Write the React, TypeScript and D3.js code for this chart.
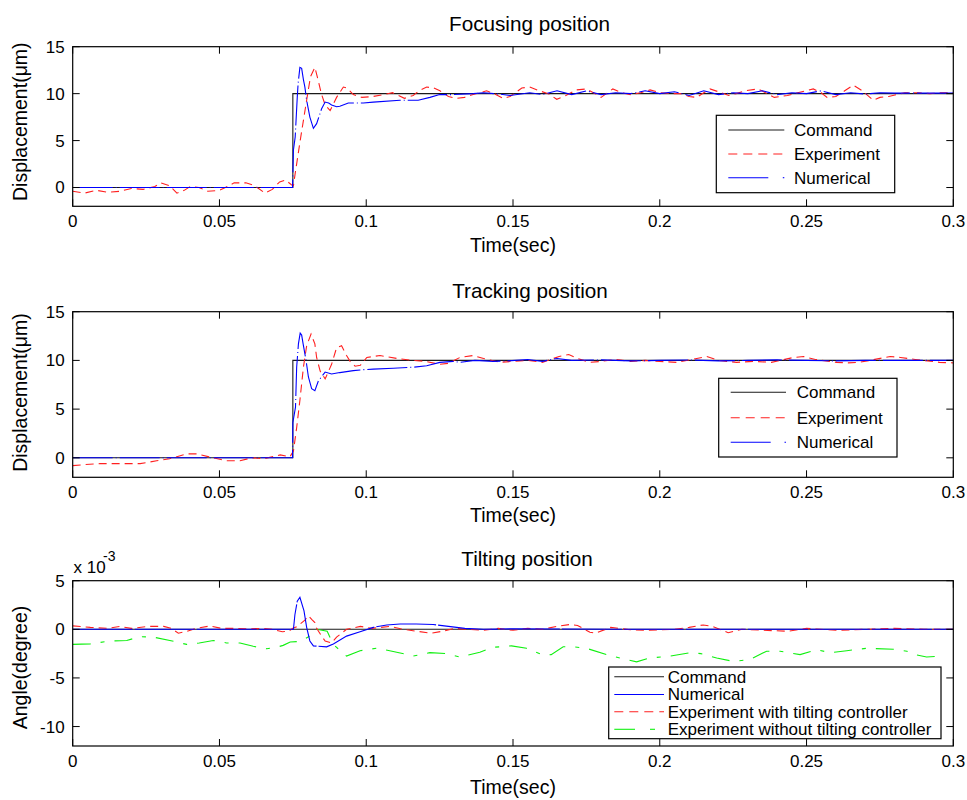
import React from "react";
import * as d3 from "d3";

// ---------- data ----------
const X_TICKS = [0, 0.05, 0.1, 0.15, 0.2, 0.25, 0.3];
const X_TICK_LABELS = ["0", "0.05", "0.1", "0.15", "0.2", "0.25", "0.3"];
const Y_TICKS_DISP = [0, 5, 10, 15];
const Y_TICKS_ANGLE = [-10, -5, 0, 5];

const P1_COMMAND: [number, number][] = [[0, 0], [0.075, 0], [0.075, 10], [0.3, 10]];
const P1_EXPERIMENT: [number, number][] = [
  [0, -0.4], [0.004, -0.6], [0.008, -0.3], [0.012, -0.5], [0.016, -0.4], [0.02, -0.1], [0.024, -0.2], [0.028, 0.1],
  [0.03, 0.5], [0.033, 0.2], [0.0355, -0.6], [0.038, -0.3], [0.04, 0.1], [0.043, 0], [0.046, -0.4], [0.05, -0.3],
  [0.052, 0], [0.055, 0.5], [0.059, 0.5], [0.062, 0.2], [0.0655, -0.6], [0.068, -0.2], [0.0705, 0.6], [0.0725, 0.8],
  [0.0745, 0.3], [0.0752, 0.2], [0.0758, 1.5], [0.0775, 5], [0.0797, 9.3], [0.081, 11.8], [0.0825, 12.8], [0.0838, 11.2],
  [0.0847, 10.0], [0.086, 8.8], [0.0877, 8.2], [0.0899, 9.6], [0.0922, 10.7], [0.0935, 10.6], [0.0956, 9.9], [0.0985, 9.6],
  [0.1024, 9.7], [0.106, 9.9], [0.109, 10.1], [0.113, 9.5], [0.116, 9.8], [0.118, 10.3], [0.1206, 10.7], [0.123, 10.6],
  [0.1251, 10.3], [0.128, 9.7], [0.1307, 9.5], [0.1335, 9.6], [0.1364, 9.9], [0.141, 10.3], [0.1435, 10.0], [0.1467, 9.5],
  [0.149, 9.7], [0.153, 10.6], [0.1557, 10.7], [0.159, 10.3], [0.162, 10.0], [0.1649, 9.4], [0.168, 9.8], [0.1716, 10.4],
  [0.175, 10.5], [0.178, 10.0], [0.18, 9.6], [0.184, 10.5], [0.187, 10.1], [0.19, 9.9], [0.1935, 10.1], [0.1967, 10.4],
  [0.2, 10.1], [0.2035, 10.0], [0.207, 10.0], [0.21, 9.7], [0.2126, 9.6], [0.215, 10.1], [0.2171, 10.5], [0.22, 10.2],
  [0.2235, 9.8], [0.226, 10.0], [0.229, 10.3], [0.2335, 10.5], [0.236, 10.1], [0.239, 9.6], [0.2435, 9.8], [0.247, 10.1],
  [0.2523, 10.5], [0.255, 10.1], [0.257, 9.6], [0.26, 9.7], [0.263, 10.3], [0.2659, 10.9], [0.269, 10.3], [0.2727, 9.3],
  [0.275, 9.6], [0.278, 9.7], [0.2835, 10.1], [0.288, 10.1], [0.292, 10.0], [0.296, 10.1], [0.3, 10.1],
];
const P1_NUMERICAL: [number, number][] = [
  [0, 0], [0.0749, 0], [0.0752, 4], [0.0758, 5.4], [0.0765, 9.6], [0.0768, 11.1], [0.0774, 12.8], [0.078, 12.7],
  [0.0786, 11.5], [0.0791, 10.7], [0.0797, 9.3], [0.0808, 7.5], [0.082, 6.3], [0.0831, 6.8], [0.0848, 8.4], [0.086, 9.1],
  [0.0872, 9.0], [0.0882, 8.8], [0.0899, 8.6], [0.091, 8.65], [0.0939, 9.0], [0.099, 9.0], [0.1024, 9.1], [0.1115, 9.3],
  [0.1177, 9.3], [0.1217, 9.6], [0.125, 9.9], [0.1296, 9.9], [0.1364, 10], [0.14, 10.1], [0.1455, 9.95], [0.149, 9.8],
  [0.1557, 10.1], [0.16, 9.9], [0.165, 10.3], [0.17, 9.9], [0.175, 10.3], [0.18, 9.9], [0.185, 10.1], [0.19, 10.0],
  [0.195, 10.3], [0.2, 10.0], [0.205, 10.2], [0.21, 9.8], [0.215, 10.3], [0.22, 9.9], [0.225, 10.1], [0.23, 10.0],
  [0.235, 10.3], [0.24, 9.9], [0.245, 10.1], [0.25, 10.0], [0.255, 10.3], [0.26, 9.9], [0.265, 10.1], [0.27, 9.95],
  [0.275, 10.1], [0.28, 10.05], [0.29, 10.05], [0.3, 10.05],
];

const P2_COMMAND: [number, number][] = [[0, 0], [0.075, 0], [0.075, 10], [0.3, 10]];
const P2_EXPERIMENT: [number, number][] = [
  [0, -0.8], [0.004, -0.7], [0.0093, -0.6], [0.015, -0.6], [0.023, -0.6], [0.0286, -0.3], [0.033, -0.1], [0.0388, 0.4],
  [0.0422, 0.4], [0.0479, 0], [0.0524, -0.3], [0.057, -0.3], [0.061, 0], [0.065, -0.1], [0.0707, 0.3], [0.074, 0.1],
  [0.0752, 0.7], [0.0763, 3.1], [0.0774, 5.9], [0.0786, 9.3], [0.0797, 11.5], [0.0812, 12.7], [0.0825, 11.7], [0.0831, 10.3],
  [0.0843, 8.9], [0.086, 8.1], [0.0882, 9.6], [0.0899, 11.3], [0.0916, 11.5], [0.0933, 10.5], [0.0945, 9.9], [0.0962, 9.4],
  [0.098, 9.5], [0.1002, 10.3], [0.1047, 10.5], [0.1104, 10.2], [0.116, 10.0], [0.12, 9.9], [0.1251, 9.6], [0.128, 9.7],
  [0.1319, 10.3], [0.1364, 10.5], [0.14, 10.2], [0.1455, 9.8], [0.15, 9.9], [0.155, 10.0], [0.16, 9.8], [0.1657, 10.4],
  [0.169, 10.6], [0.172, 10.2], [0.1762, 9.8], [0.18, 9.9], [0.185, 10.1], [0.19, 9.9], [0.195, 10.0], [0.2, 9.9],
  [0.2058, 9.8], [0.2126, 10.2], [0.216, 10.4], [0.22, 10.0], [0.2262, 9.8], [0.232, 9.9], [0.238, 9.8], [0.2455, 10.3],
  [0.249, 10.4], [0.253, 10.1], [0.2603, 9.8], [0.264, 9.75], [0.268, 9.8], [0.2785, 10.4], [0.282, 10.3], [0.287, 10.1],
  [0.2953, 9.8], [0.3, 9.75],
];
const P2_NUMERICAL: [number, number][] = [
  [0, 0], [0.0749, 0], [0.075, 3.6], [0.0759, 5.2], [0.0763, 9.3], [0.0769, 11.7], [0.0775, 12.8], [0.078, 12.6],
  [0.0785, 11.7], [0.0795, 10], [0.0803, 8.3], [0.0814, 7.1], [0.0825, 6.9], [0.0837, 7.9], [0.086, 8.8], [0.0882, 8.6],
  [0.091, 8.75], [0.0956, 8.95], [0.099, 9.05], [0.1024, 9.1], [0.1092, 9.2], [0.116, 9.3], [0.1206, 9.45], [0.1251, 9.8],
  [0.1296, 9.9], [0.1319, 9.8], [0.137, 10], [0.1432, 9.9], [0.148, 9.95], [0.155, 10.1], [0.16, 9.9], [0.165, 10.2],
  [0.17, 10.0], [0.18, 10.05], [0.19, 9.95], [0.2, 10.0], [0.21, 10.05], [0.22, 9.95], [0.23, 10.0], [0.24, 10.05],
  [0.25, 10.0], [0.26, 9.95], [0.27, 10.0], [0.28, 10.0], [0.3, 10.0],
];

// tilting panel values are in units of 1e-3 degree
const P3_COMMAND: [number, number][] = [[0, 0], [0.3, 0]];
const P3_NUMERICAL: [number, number][] = [
  [0, 0], [0.0749, 0], [0.0752, 0], [0.0757, 1.5], [0.0765, 2.9], [0.0774, 3.3], [0.0788, 1.9], [0.0797, 0.2],
  [0.0808, -1.2], [0.082, -1.7], [0.0865, -1.8], [0.0888, -1.5], [0.0933, -0.7], [0.0979, -0.25], [0.1024, 0.2],
  [0.107, 0.45], [0.1115, 0.55], [0.117, 0.55], [0.1228, 0.5], [0.128, 0.3], [0.1336, 0.1], [0.14, 0], [0.15, 0.05],
  [0.2, 0], [0.3, 0],
];
const P3_EXP_WITH: [number, number][] = [
  [0, 0.35], [0.006, 0.2], [0.012, 0.1], [0.016, 0.3], [0.02, 0.1], [0.026, 0.3], [0.031, 0.3], [0.0335, 0.1],
  [0.036, -0.4], [0.039, -0.2], [0.042, 0.1], [0.0468, 0.35], [0.0506, 0.1], [0.055, 0.1], [0.06, 0.05], [0.065, 0.1],
  [0.068, 0.0], [0.0714, -0.25], [0.0735, -0.2], [0.075, 0.1], [0.0763, 0.25], [0.0791, 0.95], [0.0803, 1.4], [0.0815, 1.0],
  [0.0825, 0.7], [0.0831, 0.1], [0.0848, -0.7], [0.086, -1.2], [0.0882, -1.4], [0.0899, -0.8], [0.0933, 0], [0.098, 0.3],
  [0.102, 0.1], [0.108, 0.3], [0.1126, 0.0], [0.1172, -0.2], [0.122, -0.4], [0.126, -0.2], [0.13, 0.1], [0.135, 0.0],
  [0.14, -0.1], [0.145, 0.1], [0.15, -0.1], [0.155, 0.1], [0.16, 0.0], [0.165, 0.3], [0.1694, 0.5], [0.172, 0.4],
  [0.1762, -0.3], [0.178, -0.4], [0.1833, 0.2], [0.19, -0.05], [0.195, -0.1], [0.2, -0.05], [0.205, 0], [0.21, 0.2],
  [0.2148, 0.45], [0.218, 0.3], [0.2233, -0.35], [0.228, 0], [0.2436, -0.2], [0.25, 0.1], [0.26, -0.1], [0.27, 0],
  [0.28, 0.1], [0.29, 0], [0.3, 0],
];
const P3_EXP_WITHOUT: [number, number][] = [
  [0, -1.55], [0.006, -1.5], [0.0127, -1.2], [0.0184, -1.15], [0.0229, -0.75], [0.0275, -0.8], [0.0331, -1.15],
  [0.0388, -1.55], [0.0431, -1.4], [0.0479, -1.15], [0.0524, -1.4], [0.057, -1.4], [0.0615, -1.75], [0.0661, -2.0],
  [0.0694, -1.85], [0.0717, -1.65], [0.0741, -1.3], [0.0774, -1.25], [0.082, -0.5], [0.0831, 0], [0.0867, -0.2],
  [0.0882, -1.2], [0.0893, -1.7], [0.0933, -2.75], [0.0979, -2.2], [0.1035, -1.95], [0.108, -2.2], [0.1149, -2.65],
  [0.116, -2.75], [0.1217, -2.4], [0.1274, -2.5], [0.1319, -2.85], [0.1387, -2.35], [0.1433, -1.85], [0.1495, -1.7],
  [0.1546, -1.95], [0.1603, -2.65], [0.163, -2.6], [0.1671, -1.8], [0.1705, -1.8], [0.175, -1.95], [0.1819, -2.6],
  [0.1864, -2.95], [0.1921, -3.35], [0.1966, -2.95], [0.2035, -2.75], [0.2103, -2.4], [0.214, -2.5], [0.2194, -2.95],
  [0.225, -3.3], [0.2307, -3.1], [0.2364, -2.25], [0.241, -2.25], [0.2478, -2.6], [0.2535, -2.1], [0.258, -2.4],
  [0.2637, -2.2], [0.2705, -1.95], [0.2796, -2.05], [0.2842, -2.25], [0.287, -2.6], [0.2909, -2.85], [0.2955, -2.75],
];

// ---------- styles ----------
const FONT = "'Liberation Sans', Arial, Helvetica, sans-serif";
const C_CMD = "#1a1a1a";
const C_EXP = "#ff2020";
const C_NUM = "#0000ff";
const C_GRN = "#10f010";
const DASH_EXP = "8 5";
const DASH_NUM = "40 3 1 3";
const DASH_NUM3 = "60 2";
const DASH_GRN = "18 10 4 10";

type Series = { data: [number, number][]; color: string; dash?: string };
type LegendItem = { label: string; color: string; kind: "solid" | "dash" | "dashdot" | "green" };

type PanelProps = {
  top: number;
  bottom: number;
  yDomain: [number, number];
  yTicks: number[];
  series: Series[];
  title: string;
  titleX: number;
  titleY: number;
  yLabel: string;
  yLabelY: number;
  xLabelY: number;
  legend: { x0: number; y0: number; x1: number; y1: number; rows: number[]; sx0: number; sx1: number; tx: number; font: number; items: LegendItem[] };
  id: string;
};

const LEFT = 72.7;
const RIGHT = 953.3;

function Panel(p: PanelProps) {
  const x = d3.scaleLinear().domain([0, 0.3]).range([LEFT, RIGHT]);
  const y = d3.scaleLinear().domain(p.yDomain).range([p.bottom, p.top]);
  const line = d3.line<[number, number]>().x((d) => x(d[0])).y((d) => y(d[1]));
  const tk = 7;
  const L = p.legend;
  return (
    <g>
      <defs>
        <clipPath id={"clip" + p.id}>
          <rect x={LEFT} y={p.top} width={RIGHT - LEFT} height={p.bottom - p.top} />
        </clipPath>
      </defs>
      <g clipPath={`url(#clip${p.id})`}>
        {p.series.map((s, i) => (
          <path key={i} d={line(s.data) || ""} fill="none" stroke={s.color} strokeWidth={1.1} strokeDasharray={s.dash} />
        ))}
      </g>
      {/* ticks */}
      {X_TICKS.map((t, i) => (
        <g key={"xt" + i}>
          <line x1={x(t)} x2={x(t)} y1={p.bottom} y2={p.bottom - tk} stroke="#000" />
          <line x1={x(t)} x2={x(t)} y1={p.top} y2={p.top + tk} stroke="#000" />
          <text x={x(t)} y={p.bottom + 21} textAnchor="middle" fontSize={17} fontFamily={FONT}>
            {X_TICK_LABELS[i]}
          </text>
        </g>
      ))}
      {p.yTicks.map((t, i) => (
        <g key={"yt" + i}>
          <line x1={LEFT} x2={LEFT + tk} y1={y(t)} y2={y(t)} stroke="#000" />
          <line x1={RIGHT} x2={RIGHT - tk} y1={y(t)} y2={y(t)} stroke="#000" />
          <text x={LEFT - 8} y={y(t)} dy="0.35em" textAnchor="end" fontSize={17} fontFamily={FONT}>
            {String(t)}
          </text>
        </g>
      ))}
      <rect x={LEFT} y={p.top} width={RIGHT - LEFT} height={p.bottom - p.top} fill="none" stroke="#000" strokeWidth={1.2} />
      <text x={p.titleX} y={p.titleY} textAnchor="middle" fontSize={20.7} fontFamily={FONT}>
        {p.title}
      </text>
      <text x={(LEFT + RIGHT) / 2} y={p.xLabelY} textAnchor="middle" fontSize={19.5} fontFamily={FONT}>
        Time(sec)
      </text>
      <text transform={`translate(26.7,${p.yLabelY}) rotate(-90)`} textAnchor="middle" fontSize={19.5} fontFamily={FONT}>
        {p.yLabel}
      </text>
      {/* legend */}
      <rect x={L.x0} y={L.y0} width={L.x1 - L.x0} height={L.y1 - L.y0} fill="#fff" stroke="#000" strokeWidth={1.2} />
      {L.items.map((it, i) => {
        const yy = L.rows[i];
        let sample: React.ReactNode;
        if (it.kind === "solid") {
          sample = <line x1={L.sx0} x2={L.sx1} y1={yy} y2={yy} stroke={it.color} strokeWidth={1.1} />;
        } else if (it.kind === "dash") {
          sample = <line x1={L.sx0} x2={L.sx1} y1={yy} y2={yy} stroke={it.color} strokeWidth={1.1} strokeDasharray="9 6" />;
        } else if (it.kind === "dashdot") {
          sample = (
            <g>
              <line x1={L.sx0} x2={L.sx0 + 40} y1={yy} y2={yy} stroke={it.color} strokeWidth={1.1} />
              <line x1={L.sx1 - 1.5} x2={L.sx1} y1={yy} y2={yy} stroke={it.color} strokeWidth={1.1} />
            </g>
          );
        } else {
          sample = (
            <g>
              <line x1={L.sx0} x2={L.sx0 + 20.7} y1={yy} y2={yy} stroke={it.color} strokeWidth={1.1} />
              <line x1={L.sx0 + 35.7} x2={L.sx0 + 40.7} y1={yy} y2={yy} stroke={it.color} strokeWidth={1.1} />
            </g>
          );
        }
        return (
          <g key={"lg" + i}>
            {sample}
            <text x={L.tx} y={yy} dy="0.35em" fontSize={L.font} fontFamily={FONT}>
              {it.label}
            </text>
          </g>
        );
      })}
    </g>
  );
}

export default function App() {
  const legend12: LegendItem[] = [
    { label: "Command", color: C_CMD, kind: "solid" },
    { label: "Experiment", color: C_EXP, kind: "dash" },
    { label: "Numerical", color: C_NUM, kind: "dashdot" },
  ];
  const legend3: LegendItem[] = [
    { label: "Command", color: C_CMD, kind: "solid" },
    { label: "Numerical", color: C_NUM, kind: "solid" },
    { label: "Experiment with tilting controller", color: C_EXP, kind: "dash" },
    { label: "Experiment without tilting controller", color: C_GRN, kind: "green" },
  ];
  return (
    <svg width={967} height={800} style={{ position: "absolute", left: 0, top: 0, display: "block", background: "#fff" }}>
      <rect x={0} y={0} width={967} height={800} fill="#fff" />
      <Panel
        id="a"
        top={46.7}
        bottom={206.3}
        yDomain={[-2, 15]}
        yTicks={Y_TICKS_DISP}
        series={[
          { data: P1_COMMAND, color: C_CMD },
          { data: P1_EXPERIMENT, color: C_EXP, dash: DASH_EXP },
          { data: P1_NUMERICAL, color: C_NUM, dash: DASH_NUM },
        ]}
        title="Focusing position"
        titleX={529.5}
        titleY={30.7}
        yLabel="Displacement(μm)"
        yLabelY={121.7}
        xLabelY={252}
        legend={{ x0: 716.3, y0: 115.3, x1: 894.7, y1: 192.7, rows: [130, 154, 177.7], sx0: 728.3, sx1: 784.3, tx: 794, font: 17, items: legend12 }}
      />
      <Panel
        id="b"
        top={311.7}
        bottom={477.3}
        yDomain={[-2, 15]}
        yTicks={Y_TICKS_DISP}
        series={[
          { data: P2_COMMAND, color: C_CMD },
          { data: P2_EXPERIMENT, color: C_EXP, dash: DASH_EXP },
          { data: P2_NUMERICAL, color: C_NUM, dash: DASH_NUM },
        ]}
        title="Tracking position"
        titleX={530}
        titleY={298.3}
        yLabel="Displacement(μm)"
        yLabelY={392.5}
        xLabelY={522}
        legend={{ x0: 718.7, y0: 378.3, x1: 897, y1: 457, rows: [392.3, 417.7, 442.3], sx0: 730.7, sx1: 786, tx: 796.7, font: 17, items: legend12 }}
      />
      <Panel
        id="c"
        top={580.7}
        bottom={746}
        yDomain={[-12, 5]}
        yTicks={Y_TICKS_ANGLE}
        series={[
          { data: P3_COMMAND, color: C_CMD },
          { data: P3_EXP_WITHOUT, color: C_GRN, dash: DASH_GRN },
          { data: P3_EXP_WITH, color: C_EXP, dash: DASH_EXP },
          { data: P3_NUMERICAL, color: C_NUM, dash: DASH_NUM3 },
        ]}
        title="Tilting position"
        titleX={527}
        titleY={566}
        yLabel="Angle(degree)"
        yLabelY={667.5}
        xLabelY={794}
        legend={{ x0: 608.7, y0: 667, x1: 941, y1: 738.7, rows: [676.7, 694.5, 711.7, 729.3], sx0: 614.3, sx1: 664, tx: 667.7, font: 17, items: legend3 }}
      />
      <text x={73.5} y={573} fontSize={17} fontFamily={FONT}>
        x 10
      </text>
      <text x={103} y={561} fontSize={14} fontFamily={FONT}>
        -3
      </text>
    </svg>
  );
}
